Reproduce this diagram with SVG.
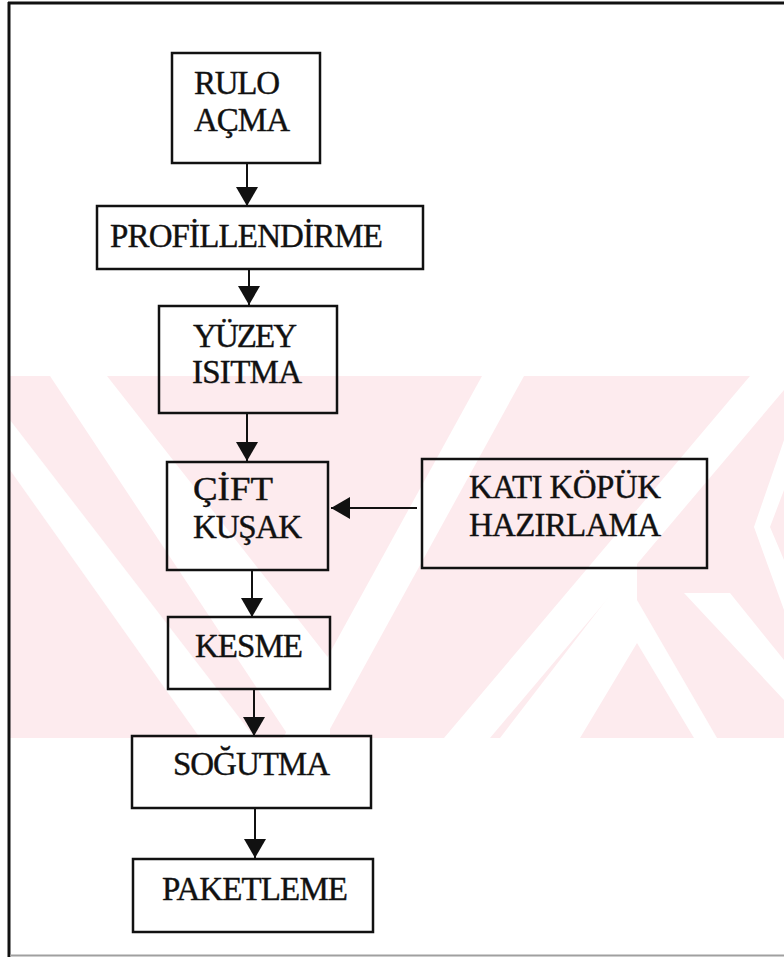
<svg xmlns="http://www.w3.org/2000/svg" width="784" height="957" viewBox="0 0 784 957">
  <defs>
    <style>
      .box { fill: none; stroke: #111; stroke-width: 2.5; }
      .lbl { font-family: "Liberation Serif", "Times New Roman", serif; font-size: 33px; fill: #111; stroke: #111; stroke-width: 0.4; }
      .con { stroke: #111; stroke-width: 2; fill: none; }
      .wm { fill: #fdebee; }
      .gap { fill: #ffffff; }
    </style>
    <marker id="ah" markerWidth="20" markerHeight="22" refX="19" refY="11" orient="auto" markerUnits="userSpaceOnUse">
      <path d="M0,0 L19,11 L0,22 Z" fill="#111"/>
    </marker>
  </defs>
  <rect x="0" y="0" width="784" height="957" fill="#ffffff"/>

  <g id="watermark">
    <rect class="wm" x="10" y="376" width="774" height="362"/>
    <polygon class="gap" points="50,376 107,376 330,660 330,738 290,738"/>
    <polygon class="gap" points="10,420 10,470 200,738 255,738"/>
    <polygon class="gap" points="482,376 524,376 325,738 283,738"/>
    <polygon class="gap" points="750,376 784,376 784,390 490,738 444,738"/>
    <polygon class="gap" points="637,643 580,738 500,738 637,560"/>
    <polygon class="gap" points="637,643 694,738 717,738 637,600"/>
    <polygon class="gap" points="784,440 754,527 784,610 784,560 770,527 784,490"/>
    <polygon class="gap" points="684,593 730,593 784,660 784,700"/>
  </g>

  <g id="frame">
    <line x1="8" y1="3" x2="784" y2="3" stroke="#111" stroke-width="3"/>
    <line x1="9" y1="2" x2="9" y2="957" stroke="#111" stroke-width="3"/>
    <line x1="10" y1="955.5" x2="784" y2="955.5" stroke="#a0a0a0" stroke-width="2"/>
  </g>

  <g id="connectors">
    <line class="con" x1="247" y1="163" x2="247" y2="206" marker-end="url(#ah)"/>
    <line class="con" x1="249" y1="269" x2="249" y2="305" marker-end="url(#ah)"/>
    <line class="con" x1="247" y1="413" x2="247" y2="461" marker-end="url(#ah)"/>
    <line class="con" x1="252" y1="570" x2="252" y2="617" marker-end="url(#ah)"/>
    <line class="con" x1="254" y1="689" x2="254" y2="736" marker-end="url(#ah)"/>
    <line class="con" x1="255" y1="808" x2="255" y2="858" marker-end="url(#ah)"/>
    <line class="con" x1="417" y1="508" x2="331" y2="508" marker-end="url(#ah)"/>
  </g>

  <g id="rulo-acma">
    <rect class="box" x="172" y="53" width="148" height="110"/>
    <text class="lbl" x="194" y="94" textLength="86">RULO</text>
    <text class="lbl" x="194" y="131" textLength="96">AÇMA</text>
  </g>
  <g id="profillendirme">
    <rect class="box" x="97" y="206" width="326" height="63"/>
    <text class="lbl" x="110" y="247" textLength="273">PROFİLLENDİRME</text>
  </g>
  <g id="yuzey-isitma">
    <rect class="box" x="159" y="306" width="178" height="107"/>
    <text class="lbl" x="193" y="347" textLength="104">YÜZEY</text>
    <text class="lbl" x="192" y="383" textLength="110">ISITMA</text>
  </g>
  <g id="cift-kusak">
    <rect class="box" x="167" y="462" width="161" height="108"/>
    <text class="lbl" x="193" y="500" textLength="80" lengthAdjust="spacingAndGlyphs">ÇİFT</text>
    <text class="lbl" x="193" y="538" textLength="109">KUŞAK</text>
  </g>
  <g id="kati-kopuk">
    <rect class="box" x="422" y="459" width="285" height="109"/>
    <text class="lbl" x="469" y="498" textLength="192">KATI KÖPÜK</text>
    <text class="lbl" x="469" y="536" textLength="192">HAZIRLAMA</text>
  </g>
  <g id="kesme">
    <rect class="box" x="168" y="617" width="162" height="72"/>
    <text class="lbl" x="195" y="657" textLength="108">KESME</text>
  </g>
  <g id="sogutma">
    <rect class="box" x="132" y="736" width="239" height="72"/>
    <text class="lbl" x="173" y="775" textLength="157">SOĞUTMA</text>
  </g>
  <g id="paketleme">
    <rect class="box" x="133" y="859" width="240" height="73"/>
    <text class="lbl" x="162" y="900" textLength="186">PAKETLEME</text>
  </g>
</svg>
